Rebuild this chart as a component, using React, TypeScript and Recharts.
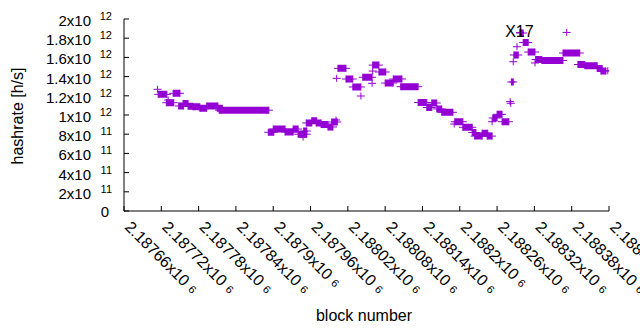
import { ComposedChart, XAxis, YAxis, Line, Scatter, ReferenceDot } from "recharts";

const PURPLE = "#9400d3";
const FONT = "Liberation Sans, Arial, sans-serif";

// runs of blocks that share the same hashrate (drawn as solid bars of "+" marks)
const runStart = [
  2187715, 2187728, 2187739, 2187748, 2187755, 2187763, 2187771, 2187782, 2187793, 2187810, 2187813,
  2187892, 2187900, 2187919, 2187932, 2187940, 2187949, 2187953, 2187962, 2187969, 2187977, 2187988, 2187994,
  2188004, 2188017, 2188028, 2188044, 2188060, 2188070, 2188080, 2188093, 2188105,
  2188133, 2188147, 2188155, 2188163, 2188171, 2188192, 2188205, 2188220, 2188224, 2188236, 2188244,
  2188253, 2188260, 2188268, 2188283, 2188287, 2188297, 2188302, 2188310, 2188322, 2188332, 2188366,
  2188390, 2188401, 2188421, 2188427,
];
const runEnd = [
  2187729, 2187740, 2187750, 2187756, 2187763, 2187771, 2187782, 2187793, 2187811, 2187818, 2187893,
  2187901, 2187919, 2187932, 2187940, 2187954, 2187954, 2187962, 2187970, 2187977, 2187988, 2187996, 2188003,
  2188017, 2188028, 2188041, 2188059, 2188070, 2188081, 2188093, 2188107, 2188133,
  2188147, 2188155, 2188163, 2188171, 2188189, 2188205, 2188220, 2188226, 2188236, 2188245, 2188252,
  2188260, 2188268, 2188279, 2188286, 2188294, 2188302, 2188310, 2188321, 2188332, 2188366, 2188393,
  2188401, 2188421, 2188429, 2188435,
];
const runRate = [
  1.215e12, 1.128e12, 1.226e12, 1.094e12, 1.12e12, 1.09e12, 1.085e12, 1.07e12, 1.094e12, 1.07e12, 1.05e12,
  0.82e12, 0.854e12, 0.823e12, 0.854e12, 0.8e12, 0.833e12, 0.917e12, 0.94e12, 0.917e12, 0.9e12, 0.875e12, 0.927e12,
  1.486e12, 1.375e12, 1.292e12, 1.393e12, 1.52e12, 1.448e12, 1.333e12, 1.375e12, 1.295e12,
  1.13e12, 1.078e12, 1.125e12, 1.063e12, 1.028e12, 0.93e12, 0.872e12, 0.818e12, 0.78e12, 0.81e12, 0.78e12,
  0.969e12, 1.007e12, 0.93e12, 1.344e12, 1.625e12, 1.854e12, 1.755e12, 1.656e12, 1.578e12, 1.568e12, 1.646e12,
  1.526e12, 1.514e12, 1.484e12, 1.458e12,
];

// single blocks
const pointBlock = [
  2187714, 2187731, 2187948, 2188001, 2188002, 2188041, 2188059, 2188060, 2188191, 2188252,
  2188281, 2188282, 2188286, 2188292, 2188297, 2188321, 2188372, 2188438,
];
const pointRate = [
  1.268e12, 1.156e12, 0.77e12, 0.948e12, 1.382e12, 1.198e12, 1.33e12, 1.458e12, 0.906e12, 0.93e12,
  1.139e12, 1.122e12, 1.555e12, 1.711e12, 1.86e12, 1.542e12, 1.86e12, 1.461e12,
];

const xTicks = [
  2187660, 2187720, 2187780, 2187840, 2187900, 2187960, 2188020, 2188080, 2188140, 2188200, 2188260,
  2188320, 2188380, 2188440,
];
const xTickLabels = [
  "2.18766", "2.18772", "2.18778", "2.18784", "2.1879", "2.18796", "2.18802", "2.18808", "2.18814",
  "2.1882", "2.18826", "2.18832", "2.18838", "2.18844",
];
const yTicks = [0, 2e11, 4e11, 6e11, 8e11, 1e12, 1.2e12, 1.4e12, 1.6e12, 1.8e12, 2e12];
const yTickMantissa = ["0", "2", "4", "6", "8", "1", "1.2", "1.4", "1.6", "1.8", "2"];
const yTickExp = ["", "11", "11", "11", "11", "12", "12", "12", "12", "12", "12"];

const labelBlock = 2188273;
const labelRate = 1.868e12;

const runData = runStart.flatMap((s, i) => [
  { b: s, v: runRate[i] },
  { b: runEnd[i], v: runRate[i] },
  { b: runEnd[i], v: null },
]);
const pointData = pointBlock.map((b, i) => ({ b, v: pointRate[i] }));

const Plus = ({ cx, cy }: any) => (
  <path
    d={`M${cx - 4},${cy}H${cx + 4}M${cx},${cy - 3.5}V${cy + 3.5}`}
    stroke={PURPLE}
    strokeWidth={1}
    fill="none"
  />
);

const XTick = ({ x, y, payload }: any) => {
  const i = xTicks.indexOf(payload.value);
  return (
    <g>
      <line x1={x} y1={y} x2={x} y2={y - 5} stroke="#000" />
      <text
        transform={`translate(${x},${y + 17}) rotate(45)`}
        fontSize={16}
        fontFamily={FONT}
        fill="#000"
      >
        {xTickLabels[i]}x10
        <tspan dx={5} dy={-1} fontSize={11}>6</tspan>
      </text>
    </g>
  );
};

const TopTick = ({ x, y }: any) => <line x1={x} y1={y} x2={x} y2={y + 5} stroke="#000" />;

const YTick = ({ x, y, payload }: any) => {
  const i = yTicks.indexOf(payload.value);
  const e = yTickExp[i];
  return (
    <g fontFamily={FONT} fill="#000">
      <line x1={x} y1={y} x2={x + 5} y2={y} stroke="#000" />
      {e ? (
        <>
          <text x={x - 33} y={y + 7} textAnchor="end" fontSize={15}>
            {yTickMantissa[i]}x10
          </text>
          <text x={x - 12} y={y + 1} textAnchor="end" fontSize={11}>
            {e}
          </text>
        </>
      ) : (
        <text x={x - 15} y={y + 6} textAnchor="end" fontSize={15}>
          {yTickMantissa[i]}
        </text>
      )}
    </g>
  );
};

const RightTick = ({ x, y }: any) => <line x1={x} y1={y} x2={x - 5} y2={y} stroke="#000" />;

const XTitle = () => (
  <text x={364} y={321} textAnchor="middle" fontSize={16} fontFamily={FONT} fill="#000">
    block number
  </text>
);

const YTitle = () => (
  <text
    x={0}
    y={0}
    transform="translate(23,116) rotate(-90)"
    textAnchor="middle"
    fontSize={16}
    fontFamily={FONT}
    fill="#000"
  >
    hashrate [h/s]
  </text>
);

const X17 = ({ viewBox }: any) => (
  <text
    x={viewBox.x}
    y={viewBox.y + 5.5}
    fontSize={16}
    fontFamily={FONT}
    fill="#000"
  >
    X17
  </text>
);

export default function App() {
  return (
    <div style={{ position: "absolute", left: 0, top: 0, background: "#fff" }}>
      <ComposedChart width={640} height={330} margin={{ top: 19, right: 31, bottom: 0, left: 0 }}>
        <XAxis
          dataKey="b"
          type="number"
          domain={[2187660, 2188440]}
          ticks={xTicks}
          interval={0}
          height={119}
          tickLine={false}
          tickSize={0}
          tickMargin={0}
          axisLine={{ stroke: "#000" }}
          tick={XTick}
          allowDataOverflow
          label={<XTitle />}
        />
        <XAxis
          xAxisId="top"
          orientation="top"
          dataKey="b"
          type="number"
          domain={[2187660, 2188440]}
          ticks={xTicks}
          interval={0}
          height={0}
          tickLine={false}
          tickSize={0}
          tickMargin={0}
          axisLine={{ stroke: "#000" }}
          tick={TopTick}
          allowDataOverflow
        />
        <YAxis
          dataKey="v"
          type="number"
          domain={[0, 2e12]}
          ticks={yTicks}
          interval={0}
          width={124}
          tickLine={false}
          tickSize={0}
          tickMargin={0}
          axisLine={{ stroke: "#000" }}
          tick={YTick}
          allowDataOverflow
          label={<YTitle />}
        />
        <YAxis
          yAxisId="right"
          orientation="right"
          type="number"
          domain={[0, 2e12]}
          ticks={yTicks}
          interval={0}
          width={0}
          tickLine={false}
          tickSize={0}
          tickMargin={0}
          axisLine={{ stroke: "#000" }}
          tick={RightTick}
          allowDataOverflow
        />
        <Line
          data={runData}
          dataKey="v"
          type="linear"
          stroke={PURPLE}
          strokeWidth={7}
          strokeLinecap="butt"
          connectNulls={false}
          isAnimationActive={false}
          activeDot={false}
          dot={(p: any) =>
            p.cy == null || isNaN(p.cy) ? <g key={p.index} /> : <Plus key={p.index} cx={p.cx} cy={p.cy} />
          }
        />
        <Scatter
          data={pointData}
          dataKey="v"
          isAnimationActive={false}
          shape={(p: any) => <Plus cx={p.cx} cy={p.cy} />}
        />
        <ReferenceDot x={labelBlock} y={labelRate} r={0} fill="none" stroke="none" label={<X17 />} />
      </ComposedChart>
    </div>
  );
}
